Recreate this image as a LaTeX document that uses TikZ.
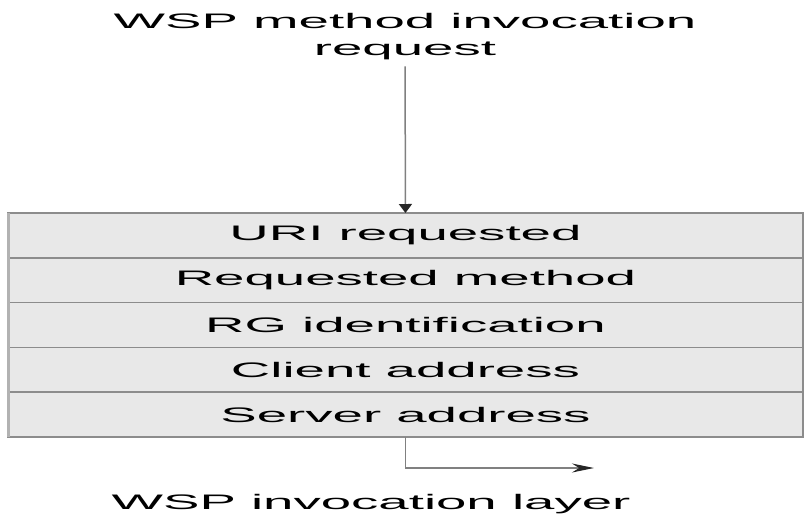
\documentclass[tikz,border=0pt]{standalone}
\usepackage{fontspec}
\usepackage{tikz}
\usetikzlibrary{arrows.meta,positioning}
\newfontfamily\widefont[FakeStretch=2.6]{Liberation Sans}

\begin{document}
\begin{tikzpicture}[x=1pt, y=-1pt,
        every node/.style={font=\widefont\fontsize{21}{27}\selectfont, text=black},
        field/.style={draw=black!45, line width=1.5pt, fill=black!9, outer sep=0pt,
                minimum width=795pt, minimum height=44.8pt, inner sep=0pt},
        flow/.style={draw=black!50, line width=1.5pt}]
        \useasboundingbox (0,0) rectangle (806,515);
        \node (t) [align=center, inner sep=6pt] at (405, 37) {WSP method invocation\\request};
        \node (r1) [field] at (405.5, 235.4) {URI requested};
        \node (r2) [field, below=0pt of r1] {Requested method};
        \node (r3) [field, below=0pt of r2] {RG identification};
        \node (r4) [field, below=0pt of r3] {Client address};
        \node (r5) [field, below=0pt of r4] {Server address};
        \node (l) at (371, 504) {WSP invocation layer};
        \coordinate (e) at (594, 468);
        \draw [flow, -{Triangle[length=9pt,width=13pt,black!85]}] (t) -- (r1);
        \draw [flow, -{Stealth[length=22pt,width=9pt,black!85]}] (r5.south) |- (e);
        % light strip along the left edge
        \draw [black!30, line width=3pt] (r1.north west) -- (r5.south west);
\end{tikzpicture}
\end{document}
